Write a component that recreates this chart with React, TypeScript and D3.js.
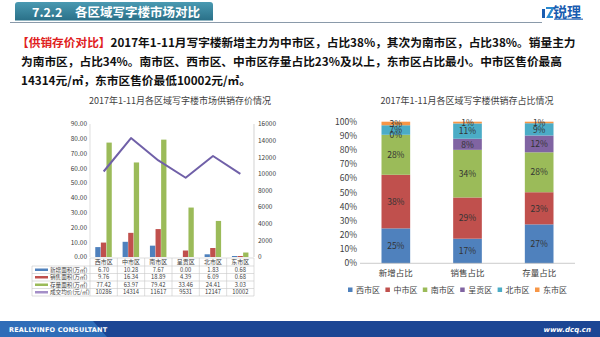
import React from 'react';
import * as d3 from 'd3';

const districts = ['西市区', '中市区', '南市区', '呈贡区', '北市区', '东市区'];
const newArea = [6.70, 10.28, 7.67, 0.00, 1.83, 0.68];
const salesArea = [9.76, 16.34, 18.89, 4.39, 6.09, 0.68];
const stockArea = [77.42, 63.97, 79.42, 33.46, 24.41, 3.03];
const avgPrice = [10286, 14314, 11617, 9531, 12147, 10002];
const rowNames = ['新增面积(万㎡)', '销售面积(万㎡)', '存量面积(万㎡)', '成交均价(元/㎡)'];
const leftTicks = [0, 10, 20, 30, 40, 50, 60, 70, 80, 90];
const rightTicks = [0, 2000, 4000, 6000, 8000, 10000, 12000, 14000, 16000];
const shareCats = ['新增占比', '销售占比', '存量占比'];
const pctTicks = [0, 0.1, 0.2, 0.3, 0.4, 0.5, 0.6, 0.7, 0.8, 0.9, 1];

const C = {
  blue: '#4f81bd', red: '#c0504d', green: '#9bbb59', purple: '#8064a2', cyan: '#4bacc6', orange: '#f79646',
};
const distColors = [C.blue, C.red, C.green, C.purple, C.cyan, C.orange];
const FONT = '"Noto Sans CJK SC", "Noto Sans", sans-serif';

function LeftChart() {
  const x = d3.scaleBand<string>().domain(districts).range([90, 254]);
  const yL = d3.scaleLinear().domain([0, 90]).range([257, 124]);
  const yR = d3.scaleLinear().domain([0, 16000]).range([257, 124]);
  const bw = 5.6;
  const series = [newArea, salesArea, stockArea];
  const barColors = [C.blue, C.red, C.green];
  const line = d3.line<number>()
    .x((_, i) => (x(districts[i]) as number) + x.bandwidth() / 2)
    .y((d) => yR(d));
  const tableTop = 258;
  const headH = 8;
  const rowH = 7.5;
  const rowsData = [newArea, salesArea, stockArea, avgPrice];
  const rowColors = [C.blue, C.red, C.green, '#a48fc8'];
  const fmt = (v: number, r: number) => (r === 3 ? String(v) : v.toFixed(2));
  const tableBottom = tableTop + headH + rowH * 4;
  return (
    <g fontFamily={FONT}>
      <text x={180} y={104} textAnchor="middle" fontSize={9} fill="#404040">2017年1-11月各区域写字楼市场供销存价情况</text>
      {leftTicks.map((t) => (
        <text key={'l' + t} x={87} y={yL(t) + 2.3} textAnchor="end" fontSize={6.5} fill="#404040">{t.toFixed(2)}</text>
      ))}
      {rightTicks.map((t) => (
        <text key={'r' + t} x={258} y={yR(t) + 2.3} fontSize={6.5} fill="#404040">{t}</text>
      ))}
      <line x1={90} x2={90} y1={124} y2={257} stroke="#d0d0d0" strokeWidth={0.7} />
      <line x1={254} x2={254} y1={124} y2={257} stroke="#bfbfbf" strokeWidth={0.7} />
      {series.map((s, si) =>
        s.map((v, i) => {
          const cx = (x(districts[i]) as number) + x.bandwidth() / 2;
          const x0 = cx - (bw * 3) / 2 + si * bw;
          return <rect key={si + '-' + i} x={x0} y={yL(v)} width={bw - 0.3} height={257 - yL(v)} fill={barColors[si]} />;
        })
      )}
      <path d={line(avgPrice) as string} fill="none" stroke="#7060a8" strokeWidth={2} strokeLinejoin="round" />
      <g stroke="#c8c8c8" strokeWidth={0.6}>
        <line x1={90} x2={254} y1={tableTop} y2={tableTop} />
        {[0, 1, 2, 3, 4].map((r) => (
          <line key={'h' + r} x1={32} x2={254} y1={tableTop + headH + r * rowH} y2={tableTop + headH + r * rowH} />
        ))}
        <line x1={32} x2={32} y1={tableTop + headH} y2={tableBottom} />
        {districts.map((d, i) => (
          <line key={'v' + i} x1={x(d) as number} x2={x(d) as number} y1={tableTop} y2={tableBottom} />
        ))}
        <line x1={254} x2={254} y1={tableTop} y2={tableBottom} />
      </g>
      {districts.map((d) => (
        <text key={'c' + d} x={(x(d) as number) + x.bandwidth() / 2} y={tableTop + 6} textAnchor="middle" fontSize={6} fill="#404040">{d}</text>
      ))}
      {rowsData.map((row, r) => {
        const cy = tableTop + headH + r * rowH + rowH / 2;
        return (
          <g key={'row' + r}>
            <line x1={35} x2={48} y1={cy} y2={cy} stroke={rowColors[r]} strokeWidth={2.5} />
            <text x={50} y={cy + 2} fontSize={5.6} fill="#404040">{rowNames[r]}</text>
            {row.map((v, i) => (
              <text key={i} x={(x(districts[i]) as number) + x.bandwidth() / 2} y={cy + 2} textAnchor="middle" fontSize={5.8} fill="#404040">{fmt(v, r)}</text>
            ))}
          </g>
        );
      })}
    </g>
  );
}

function RightChart() {
  const rows = shareCats.map((k, ci) => {
    const src = [newArea, salesArea, stockArea][ci];
    const o: any = { key: k };
    districts.forEach((d, i) => (o[d] = src[i]));
    return o;
  });
  const stack = d3.stack<any>().keys(districts).offset(d3.stackOffsetExpand);
  const stacked = stack(rows);
  const x = d3.scaleBand<string>().domain(shareCats).range([360, 575]).paddingInner(0.6).paddingOuter(0.3);
  const y = d3.scaleLinear().domain([0, 1]).range([263.3, 121.7]);
  const legendX = [348, 385.4, 422.8, 460.2, 497.6, 535];
  return (
    <g fontFamily={FONT}>
      <text x={467} y={104} textAnchor="middle" fontSize={9} fill="#404040">2017年1-11月各区域写字楼供销存占比情况</text>
      {pctTicks.map((t) => (
        <text key={t} x={357} y={y(t) + 3} textAnchor="end" fontSize={8.5} fill="#404040">{Math.round(t * 100) + '%'}</text>
      ))}
      {stacked.map((s, si) =>
        s.map((seg, ci) => (
          <rect key={si + '-' + ci} x={x(shareCats[ci]) as number} y={y(seg[1])} width={x.bandwidth()} height={y(seg[0]) - y(seg[1])} fill={distColors[si]} />
        ))
      )}
      {stacked.map((s, si) =>
        s.map((seg, ci) => (
          <text key={'t' + si + '-' + ci} x={(x(shareCats[ci]) as number) + x.bandwidth() / 2} y={y((seg[0] + seg[1]) / 2) + 3.2} textAnchor="middle" fontSize={8.5} fill="#333">
            {Math.round((seg[1] - seg[0]) * 100) + '%'}
          </text>
        ))
      )}
      <line x1={360} x2={575} y1={263.3} y2={263.3} stroke="#bfbfbf" strokeWidth={0.8} />
      {shareCats.map((c) => (
        <text key={c} x={(x(c) as number) + x.bandwidth() / 2} y={276} textAnchor="middle" fontSize={8.5} fill="#404040">{c}</text>
      ))}
      {districts.map((d, i) => (
        <g key={'lg' + d}>
          <rect x={legendX[i]} y={287.5} width={4.5} height={4.5} fill={distColors[i]} />
          <text x={legendX[i] + 8} y={293} fontSize={8} fill="#404040">{d}</text>
        </g>
      ))}
    </g>
  );
}

export default function App() {
  return (
    <svg width={600} height={337} style={{ position: 'absolute', left: 0, top: 0, background: '#fff' }}>
      <defs>
        <linearGradient id="tab" x1="0" y1="0" x2="0" y2="1">
          <stop offset="0" stopColor="#4a9ab2" />
          <stop offset="1" stopColor="#2a7088" />
        </linearGradient>
      </defs>
      <rect width={600} height={337} fill="#fff" />
      <path d="M15,20.5 L15,5 Q15,2 18,2 L210,2 Q213,2 213,5 L213,20.5 Z" fill="url(#tab)" />
      <line x1={10} x2={542} y1={22.5} y2={22.5} stroke="#8a9aaa" strokeWidth={1.2} />
      <text x={32} y={17} fontFamily={FONT} fontWeight="bold" fontSize={12.5} fill="#fff">7.2.2</text>
      <text x={75} y={17} fontFamily={FONT} fontWeight="bold" fontSize={12.5} fill="#fff">各区域写字楼市场对比</text>
      <g>
        <rect x={542} y={9} width={3} height={9} fill="#1a5cb0" />
        <path d="M546,8 L553,8 L548,17 L553,17" fill="none" stroke="#2a8ad0" strokeWidth={2.2} />
        <text x={553} y={17} fontFamily={FONT} fontWeight="bold" fontSize={14} fill="#1a5cb0">锐理</text>
        <rect x={554} y={18.5} width={29} height={1.5} fill="#1a5cb0" opacity={0.7} />
      </g>
      <g fontFamily={FONT} fontWeight="bold" fontSize={11.7} fill="#111">
        <text x={17} y={47}>
          <tspan fill="#e02020">【供销存价对比】</tspan>
          <tspan>2017年1-11月写字楼新增主力为中市区，占比38%，其次为南市区，占比38%。销量主力</tspan>
        </text>
        <text x={21} y={66}>为南市区，占比34%。南市区、西市区、中市区存量占比23%及以上，东市区占比最小。中市区售价最高</text>
        <text x={21} y={85}>14314元/㎡，东市区售价最低10002元/㎡。</text>
      </g>
      <LeftChart />
      <RightChart />
      <rect x={0} y={321} width={600} height={16} fill="#1c4694" />
      <path d="M0,321 L93,321 L107,337 L0,337 Z" fill="#2f6db8" />
      <text x={9} y={332} fontFamily="'DejaVu Sans', sans-serif" fontWeight="bold" fontSize={6.5} fill="#fff" letterSpacing={0.2}>REALLYINFO CONSULTANT</text>
      <text x={591} y={332} textAnchor="end" fontFamily="'DejaVu Sans', sans-serif" fontStyle="italic" fontWeight="bold" fontSize={7} fill="#fff">www.dcq.cn</text>
    </svg>
  );
}
